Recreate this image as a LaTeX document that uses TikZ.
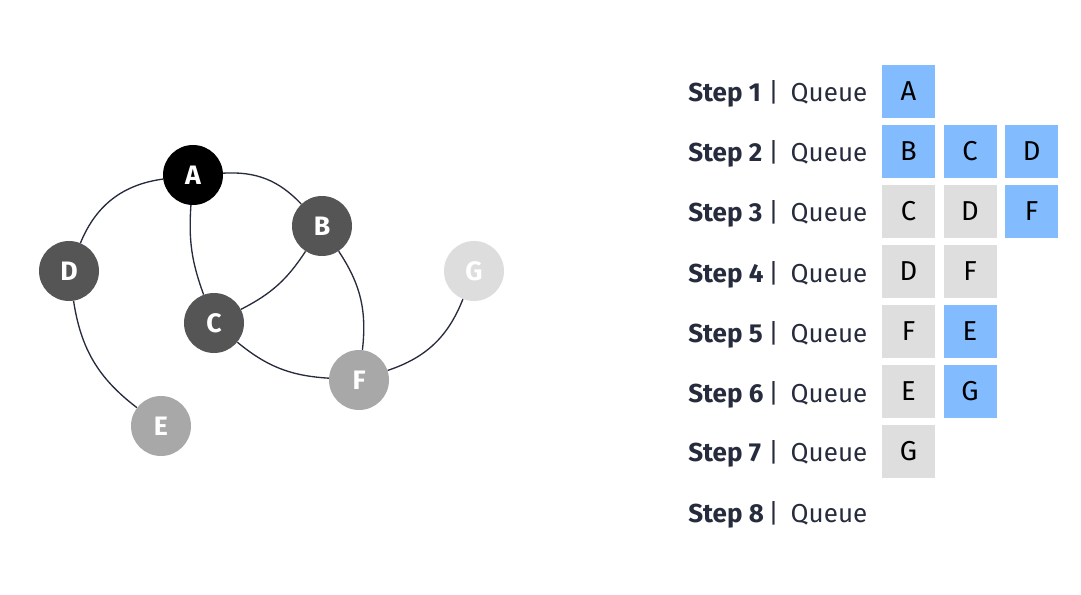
\documentclass[tikz,border=0pt]{standalone}
\usepackage{fontspec}
\setmainfont{Fira Sans}
\usetikzlibrary{positioning}
\definecolor{ink}{HTML}{262C3D}
\definecolor{qblue}{HTML}{82BCFF}
\definecolor{qgray}{HTML}{DEDEDE}
\definecolor{vdark}{HTML}{555555}
\definecolor{vmid}{HTML}{A8A8A8}
\definecolor{vlight}{HTML}{DDDDDD}
\newcommand{\steptext}[1]{\makebox[57pt][l]{\textbf{Step #1}}\hspace{3pt}|\hspace{9pt}Queue}

\begin{document}
\begin{tikzpicture}[x=0.75pt,y=-0.75pt,
  vertex/.style={circle,minimum size=45pt,inner sep=0pt,text=white,
    font=\bfseries\fontsize{20}{20}\selectfont},
  edge/.style={draw=ink,line width=1pt},
  steplabel/.style={anchor=west,inner sep=0pt,text=ink,text height=18pt,text depth=3pt,
    font=\fontsize{19.5}{19.5}\selectfont},
  qbox/.style={minimum size=39.75pt,inner sep=0pt,text=black,
    font=\fontsize{20.5}{20.5}\selectfont},
  visit/.style={qbox,fill=qblue},
  done/.style={qbox,fill=qgray}]
\useasboundingbox (0,0) rectangle (1081,595);

% graph
\node[vertex,fill=black]  (A) at (193,175) {A};
\node[vertex,fill=vdark]  (B) at (322,226) {B};
\node[vertex,fill=vdark]  (C) at (214,323) {C};
\node[vertex,fill=vdark]  (D) at (69,271)  {D};
\node[vertex,fill=vmid]   (E) at (161,426) {E};
\node[vertex,fill=vmid]   (F) at (359,380) {F};
\node[vertex,fill=vlight] (G) at (474,271) {G};

\draw[edge] (A) to[bend right=30] (D);
\draw[edge] (A) to[bend left=25] (B);
\draw[edge] (A) to[bend right=12] (C);
\draw[edge] (B) to[bend left=15] (C);
\draw[edge] (B) to[bend left=20] (F);
\draw[edge] (C) to[bend right=18] (F);
\draw[edge] (F) to[bend right=25] (G);
\draw[edge] (D) to[bend right=22] (E);

% queue steps
\node[steplabel] (s1) at (688,92)  {\steptext{1}};
\node[steplabel] (s2) at (688,152) {\steptext{2}};
\node[steplabel] (s3) at (688,212) {\steptext{3}};
\node[steplabel] (s4) at (688,272) {\steptext{4}};
\node[steplabel] (s5) at (688,332) {\steptext{5}};
\node[steplabel] (s6) at (688,392) {\steptext{6}};
\node[steplabel] (s7) at (688,451) {\steptext{7}};
\node[steplabel] (s8) at (688,512) {\steptext{8}};

\node[visit] (q11) at (908.5,91.5) {A};
\node[visit] (q21) at (908.5,151.5) {B};
\node[visit,right=6pt of q21] (q22) {C};
\node[visit,right=6pt of q22] (q23) {D};
\node[done]  (q31) at (908.5,211.5) {C};
\node[done,right=6pt of q31]  (q32) {D};
\node[visit,right=6pt of q32] (q33) {F};
\node[done]  (q41) at (908.5,271.5) {D};
\node[done,right=6pt of q41]  (q42) {F};
\node[done]  (q51) at (908.5,331.5) {F};
\node[visit,right=6pt of q51] (q52) {E};
\node[done]  (q61) at (908.5,391.5) {E};
\node[visit,right=6pt of q61] (q62) {G};
\node[done]  (q71) at (908.5,451.5) {G};
\end{tikzpicture}
\end{document}
